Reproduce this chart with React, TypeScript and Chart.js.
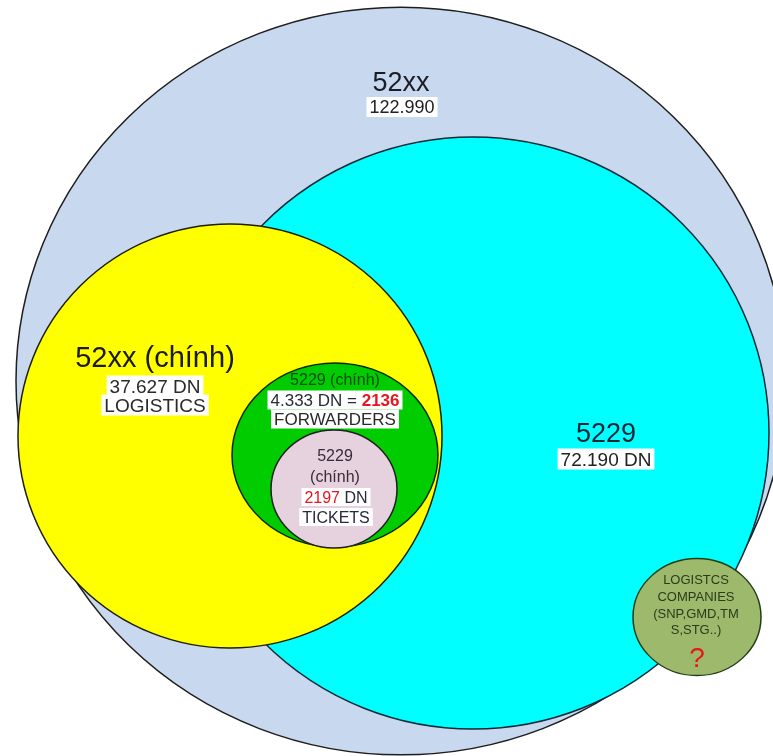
import React, { useEffect, useRef } from 'react';
import { Chart, registerables } from 'chart.js';

Chart.register(...registerables);

const W = 773;
const H = 756;

// Sets (back to front)
const setNames = ['52xx', '5229', '52xx (chính)', '5229 (chính) FORWARDERS', '5229 (chính) TICKETS', 'LOGISTCS COMPANIES'];
const setCounts = [122990, 72190, 37627, 4333, 2197, 0];
const circleX = [401, 473, 230, 335, 334, 697];
const circleY = [381, 433, 436, 455, 489, 617];
const circleR = [385, 296, 212, 103, 63, 64];
const circleAspect = [0.971, 1, 1, 0.893, 0.937, 0.914];
const circleFill = ['#c8d9ef', '#00ffff', '#ffff00', '#00cc00', '#e6d1de', '#9dba6c'];
const circleBorder = ['#1e1e1e', '#0c2a38', '#1e1e00', '#0a2a0a', '#1e1e1e', '#223d14'];

type Seg = { t: string; c?: string; b?: boolean };
type Line = { x: number; y: number; size: number; color: string; box?: boolean; segs: Seg[] };

const RED = '#e8141e';
const FONT = '"Liberation Sans", Arial, sans-serif';

const labelLines: Line[] = [
  { x: 401, y: 81, size: 27, color: '#1a1c26', segs: [{ t: '52xx' }] },
  { x: 402, y: 107, size: 18, color: '#222', box: true, segs: [{ t: '122.990' }] },

  { x: 155, y: 357, size: 29, color: '#1a1a10', segs: [{ t: '52xx (chính)' }] },
  { x: 155, y: 386, size: 19, color: '#2a2a2a', box: true, segs: [{ t: '37.627 DN' }] },
  { x: 155, y: 405, size: 19, color: '#2a2a2a', box: true, segs: [{ t: 'LOGISTICS' }] },

  { x: 335, y: 379, size: 16, color: '#0b4a10', segs: [{ t: '5229 (chính)' }] },
  { x: 335, y: 400, size: 17, color: '#2a2a3a', box: true, segs: [{ t: '4.333 DN = ' }, { t: '2136', c: RED, b: true }] },
  { x: 335, y: 419, size: 17, color: '#2a2a2a', box: true, segs: [{ t: 'FORWARDERS' }] },

  { x: 335, y: 455, size: 16, color: '#3a2a3a', segs: [{ t: '5229' }] },
  { x: 335, y: 476, size: 16, color: '#3a2a3a', segs: [{ t: '(chính)' }] },
  { x: 336, y: 497, size: 16, color: '#2a2a3a', box: true, segs: [{ t: '2197', c: RED }, { t: ' DN' }] },
  { x: 336, y: 517, size: 16, color: '#2a2a3a', box: true, segs: [{ t: 'TICKETS' }] },

  { x: 606, y: 432, size: 27, color: '#0a2636', segs: [{ t: '5229' }] },
  { x: 606, y: 459, size: 19, color: '#222', box: true, segs: [{ t: '72.190 DN' }] },

  { x: 696, y: 579, size: 13, color: '#2c3a1c', segs: [{ t: 'LOGISTCS' }] },
  { x: 696, y: 596, size: 13, color: '#2c3a1c', segs: [{ t: 'COMPANIES' }] },
  { x: 696, y: 613, size: 13, color: '#2c3a1c', segs: [{ t: '(SNP,GMD,TM' }] },
  { x: 696, y: 629, size: 13, color: '#2c3a1c', segs: [{ t: 'S,STG..)' }] },
  { x: 697, y: 657, size: 28, color: RED, segs: [{ t: '?' }] },
];

const ellipsePlugin = {
  id: 'ellipseAspect',
  beforeDatasetDraw(chart: any, args: any) {
    const el = args.meta.data[0];
    const k = circleAspect[args.index];
    const ctx = chart.ctx;
    ctx.save();
    ctx.translate(el.x, el.y);
    ctx.scale(1, k);
    ctx.translate(-el.x, -el.y);
  },
  afterDatasetDraw(chart: any) {
    chart.ctx.restore();
  },
};

const labelPlugin = {
  id: 'vennLabels',
  afterDatasetsDraw(chart: any) {
    const ctx = chart.ctx;
    const xs = chart.scales.x;
    const ys = chart.scales.y;
    ctx.save();
    ctx.textBaseline = 'alphabetic';
    ctx.textAlign = 'left';
    for (const line of labelLines) {
      const cx = xs.getPixelForValue(line.x);
      const cy = ys.getPixelForValue(line.y);
      const widths = line.segs.map((s) => {
        ctx.font = `${s.b ? 'bold ' : ''}${line.size}px ${FONT}`;
        return ctx.measureText(s.t).width;
      });
      const total = widths.reduce((a, b) => a + b, 0);
      let x = cx - total / 2;
      if (line.box) {
        ctx.fillStyle = '#ffffff';
        const hh = line.size * 0.5 + 1;
        ctx.fillRect(x - 3, cy - hh, total + 6, hh * 2);
      }
      line.segs.forEach((s, i) => {
        ctx.font = `${s.b ? 'bold ' : ''}${line.size}px ${FONT}`;
        ctx.fillStyle = s.c || line.color;
        ctx.fillText(s.t, x, cy + line.size * 0.36);
        x += widths[i];
      });
    }
    ctx.restore();
  },
};

export default function App() {
  const ref = useRef<HTMLCanvasElement>(null);
  useEffect(() => {
    if (!ref.current) return;
    const n = setNames.length;
    const chart = new Chart(ref.current, {
      type: 'bubble',
      data: {
        datasets: setNames.map((name, i) => ({
          label: `${name}${setCounts[i] ? ' ' + setCounts[i] : ''}`,
          data: [{ x: circleX[i], y: circleY[i], r: circleR[i] }],
          backgroundColor: circleFill[i],
          borderColor: circleBorder[i],
          borderWidth: 1.5,
          clip: false as any,
          order: n - i,
        })),
      },
      options: {
        animation: false,
        responsive: false,
        events: [],
        layout: { autoPadding: false, padding: 0 },
        plugins: { legend: { display: false }, tooltip: { enabled: false } },
        scales: {
          x: { type: 'linear', min: 0, max: W, display: false },
          y: { type: 'linear', min: 0, max: H, reverse: true, display: false },
        },
      },
      plugins: [ellipsePlugin, labelPlugin],
    } as any);
    return () => chart.destroy();
  }, []);
  return (
    <div style={{ position: 'fixed', left: 0, top: 0, width: W, height: H, background: '#ffffff' }}>
      <canvas ref={ref} width={W} height={H} style={{ display: 'block' }} />
    </div>
  );
}
